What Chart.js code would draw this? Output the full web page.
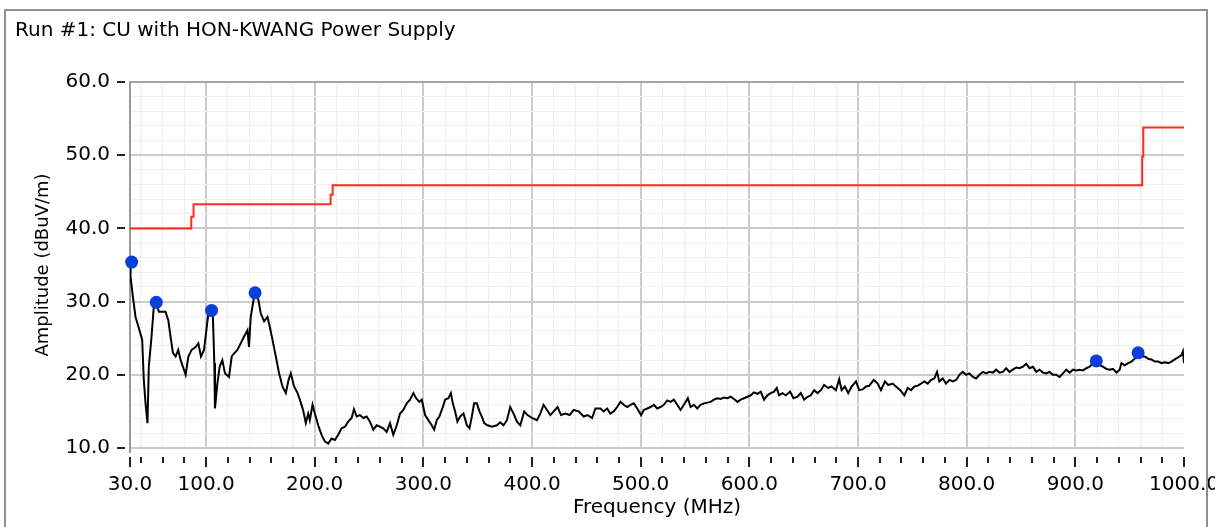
<!DOCTYPE html>
<html>
<head>
<meta charset="utf-8">
<script src="https://cdn.jsdelivr.net/npm/chart.js@4"></script>
<style>
  html, body { margin: 0; padding: 0; background: #fff; }
  #wrap { position: relative; width: 1215px; height: 527px; overflow: hidden; }
  #frame { position: absolute; left: 4px; top: 9px; width: 1204px; height: 540px;
           border: 2px solid #8f8f8f; box-sizing: border-box; pointer-events: none; }
  canvas { position: absolute; left: 0; top: 0; }
</style>
</head>
<body>
<div id="wrap">
  <canvas id="myChart" width="1215" height="527"></canvas>
  <div id="frame"></div>
</div>
<script>
const traceFreq = [
  30, 30.5, 32.6, 35.1, 38.1, 41.2, 42.7, 44.3, 46.1, 47.3,
  49.8, 51.9, 54.2, 56.6, 62.7, 65.2, 67.3, 69.5, 72.0, 74.4,
  76.6, 78.7, 81.2, 83.7, 86.7, 90.4, 92.9, 95.3, 98.1, 99.6,
  102.1, 104.2, 106.3, 107.6, 108.2, 110.4, 112.5, 115.0, 117.4, 121.1,
  123.6, 125.7, 128.8, 131.9, 134.9, 138.1, 139.5, 141.1, 144.2, 145.1,
  148.2, 150.3, 153.4, 156.5, 158.6, 161.1, 164.2, 167.2, 170.3, 173.4,
  175.9, 178.0, 181.0, 184.2,
  186.3, 189.3, 191.8, 194.0, 195.5, 198.0, 200.1, 203.2, 206.3, 209.3,
  212.4, 215.5, 218.6, 221.6, 224.7, 227.8, 230.8, 234.0, 236.1, 238.6,
  241.6, 244.7, 247.8, 250.8, 253.9, 257.0, 260.1, 263.1, 266.2, 269.3,
  272.3, 275.5, 278.5, 281.5, 284.7, 287.7, 290.8, 293.3, 296.3, 298.5,
  301.6, 304.6, 307.7, 309.9, 312.3, 314.7, 317.9, 320.0, 323.0, 325.3,
  327.1, 329.2, 331.3, 333.8, 336.9, 340.0, 342.4, 344.6, 346.7, 349.2,
  351.6, 353.8, 356.0, 359.0, 363.1, 367.7, 370.7, 373.8, 376.9, 379.9,
  383.0, 386.1, 389.2, 392.8, 395.9, 399.9, 404.5, 407.6, 410.6, 413.8,
  416.8, 419.9, 423.5, 426.7, 430.6, 434.6, 438.3, 442.9, 447.5, 451.2,
  455.3, 458.3, 462.9,
  466.0, 469.1, 472.1, 475.2, 478.3, 481.4, 484.4, 487.5, 490.6, 493.6,
  496.8, 500.4, 502.8, 506.0, 509.0, 512.1, 515.2, 518.2, 521.3, 524.4,
  527.5, 530.5, 533.6, 536.7, 539.7, 543.4, 545.9, 549.0, 552.1, 555.1,
  558.2, 561.3, 564.4, 567.4, 570.5, 573.6, 576.6, 579.7, 582.8, 585.8,
  589.0, 592.0, 595.1, 598.2, 601.2, 604.3, 607.4, 610.5, 613.5, 616.6,
  619.7, 622.7, 625.2, 627.3, 630.4, 633.5, 637.5, 640.6, 644.3, 647.3,
  650.4, 653.5, 656.6, 659.6, 662.7, 665.8, 668.8, 672.5, 675.6, 679.6,
  682.7, 684.9, 687.9, 691.0, 694.1, 698.1, 701.1, 704.2, 707.3, 710.3,
  714.4, 718.1, 721.1, 724.8, 727.8, 731.9, 734.9, 738.9,
  742.6, 745.7, 748.8, 751.8, 754.9, 758.0, 761.0, 764.2, 767.2, 770.2,
  772.7, 774.8, 778.0, 781.0, 784.1, 787.2, 790.3, 793.3, 796.4, 799.5,
  802.5, 805.7, 808.7, 811.7, 814.9, 817.9, 821.0, 824.1, 827.1, 830.2,
  833.3, 836.3, 839.4, 842.5, 845.6, 848.6, 851.8, 854.8, 857.8, 861.0,
  864.0, 867.1, 870.2, 873.3, 876.3, 879.4, 882.5, 885.5, 888.6, 891.7,
  894.7, 897.9, 900.9, 904.0, 907.1, 910.1, 913.2, 916.3, 919.3, 922.4,
  925.5, 928.6, 931.6, 934.7, 937.8, 940.8, 942.4, 945.4, 948.6, 951.6,
  954.7, 957.8, 960.8, 963.9, 967.0, 970.0, 973.1, 976.2, 979.3, 982.3,
  985.5, 988.5, 991.5, 994.7, 997.7, 999.0, 1000
];
const traceAmp = [
  35.4, 33.4, 30.7, 27.9, 26.4, 24.8, 19.3, 16.1, 13.4, 21.1,
  25.2, 29.3, 29.8, 28.6, 28.6, 27.5, 25.2, 23.0, 22.5, 23.4,
  22.0, 21.1, 20.0, 22.5, 23.4, 23.8, 24.3, 22.5, 23.4, 25.2,
  28.4, 28.6, 27.9, 21.6, 15.4, 18.8, 21.1, 22.0, 20.2, 19.7,
  22.5, 22.9, 23.4, 24.3, 25.2, 26.1, 23.8, 27.9, 30.7, 31.1,
  30.2, 28.4, 27.3, 27.9, 26.6, 24.8, 22.5, 20.2, 18.4, 17.5,
  19.3, 20.2, 18.4, 17.5,
  16.6, 15.2, 13.4, 14.7, 13.8, 15.9, 14.7, 13.1, 11.8, 10.9,
  10.6, 11.3, 11.1, 11.8, 12.7, 12.9, 13.6, 14.1, 15.3, 14.3,
  14.5, 14.1, 14.3, 13.6, 12.5, 13.1, 12.9, 12.7, 12.2, 13.4,
  11.8, 13.1, 14.7, 15.2, 16.1, 16.6, 17.5, 16.8, 16.3, 16.6,
  14.5, 13.8, 13.1, 12.5, 13.8, 14.3, 15.6, 16.6, 16.8, 17.5,
  16.1, 15.0, 13.6, 14.3, 14.7, 13.1, 12.7, 14.3, 16.1, 16.1,
  15.0, 14.3, 13.4, 13.1, 12.9, 13.1, 13.5, 13.1, 13.8, 15.6,
  14.7, 13.6, 13.1, 15.0, 14.5, 14.1, 13.8, 14.7, 15.9, 15.2,
  14.5, 15.0, 15.6, 14.5, 14.7, 14.5, 15.2, 15.0, 14.3, 14.5,
  14.1, 15.4, 15.4,
  15.0, 15.4, 14.7, 15.0, 15.6, 16.3, 15.9, 15.6, 15.9, 16.1,
  15.4, 14.5, 15.2, 15.4, 15.6, 15.9, 15.4, 15.6, 15.9, 16.5,
  16.3, 16.6, 15.9, 15.2, 15.9, 16.8, 15.6, 15.9, 15.4, 15.9,
  16.1, 16.2, 16.3, 16.6, 16.8, 16.7, 16.9, 16.8, 17.0, 16.7,
  16.3, 16.6, 16.8, 17.0, 17.2, 17.6, 17.4, 17.7, 16.6, 17.2,
  17.5, 17.7, 18.2, 17.2, 17.5, 17.2, 17.7, 16.8, 17.0, 17.5,
  16.6, 17.0, 17.2, 17.9, 17.5, 17.9, 18.6, 18.2, 18.4, 17.9,
  19.4, 17.9, 18.4, 17.5, 18.4, 19.1, 17.9, 18.0, 18.4, 18.5,
  19.3, 18.8, 17.9, 19.1, 18.6, 18.8, 18.4, 17.9,
  17.2, 18.2, 17.9, 18.4, 18.5, 18.8, 19.1, 18.8, 19.3, 19.5,
  20.4, 19.1, 19.5, 18.8, 19.3, 19.1, 19.3, 20.0, 20.4, 20.0,
  20.2, 19.7, 19.5, 20.0, 20.4, 20.2, 20.4, 20.3, 20.7, 20.3,
  20.4, 20.9, 20.4, 20.7, 21.0, 20.9, 21.1, 21.5, 20.9, 21.1,
  20.4, 20.7, 20.3, 20.2, 20.4, 20.0, 20.0, 19.7, 20.2, 20.7,
  20.3, 20.7, 20.6, 20.7, 20.6, 20.9, 21.1, 21.6, 21.8, 21.3,
  21.1, 20.8, 20.7, 20.8, 20.3, 20.7, 21.6, 21.3, 21.6, 21.8,
  22.2, 22.9, 22.5, 22.5, 22.2, 22.1, 21.8, 21.8, 21.6, 21.7,
  21.6, 21.8, 22.1, 22.4, 22.7, 23.2, 21.6
];

// limit line (stepped)
const limitFreq = [30, 86.4, 88.5, 214.6, 216.5, 961.5, 962.5, 1000];
const limitAmp = [40.0, 41.6, 43.3, 44.6, 45.9, 49.8, 53.8, 53.8];

// peak markers
const peakFreq = [31.5, 54.2, 105.1, 145.1, 919.3, 957.8];
const peakAmp = [35.4, 29.9, 28.8, 31.2, 21.9, 23.0];

const xMajor = [30, 100, 200, 300, 400, 500, 600, 700, 800, 900, 1000];
const xMinorStep = 20;
const yMajor = [10, 20, 30, 40, 50, 60];
const yMinorStep = 2;

const toPoints = (xs, ys) => xs.map((x, i) => ({ x: x, y: ys[i] }));

let xTickValues = [30];
for (let v = 40; v <= 1000; v += xMinorStep) xTickValues.push(v);
let yTickValues = [];
for (let v = 10; v <= 60; v += yMinorStep) yTickValues.push(v);

const isXMajor = v => xMajor.includes(v);
const isYMajor = v => yMajor.includes(v);

// small tick marks drawn outside the plot
const tickMarks = {
    id: "tickMarks",
    afterDraw(chart) {
        const ctx = chart.ctx;
        const xs = chart.scales.x;
        const ys = chart.scales.y;
        const bottom = chart.chartArea.bottom;
        const left = chart.chartArea.left;
        ctx.save();
        ctx.strokeStyle = "#222";
        ctx.lineWidth = 2;
        xs.ticks.forEach(t => {
            const px = Math.round(xs.getPixelForValue(t.value));
            ctx.beginPath();
            ctx.moveTo(px, bottom + 9);
            ctx.lineTo(px, bottom + (isXMajor(t.value) ? 19 : 15));
            ctx.stroke();
        });
        ys.ticks.forEach(t => {
            if (!isYMajor(t.value)) return;
            const py = Math.round(ys.getPixelForValue(t.value));
            ctx.beginPath();
            ctx.moveTo(left - 13, py);
            ctx.lineTo(left - 5, py);
            ctx.stroke();
        });
        // axis line runs a little below the plot
        ctx.strokeStyle = "#9a9a9a";
        ctx.beginPath();
        ctx.moveTo(left, bottom);
        ctx.lineTo(left, bottom + 5);
        ctx.stroke();
        ctx.restore();
    }
};

const white = {
    id: "white",
    beforeDraw(chart) {
        const ctx = chart.ctx;
        ctx.save();
        ctx.fillStyle = "#fff";
        ctx.fillRect(0, 0, chart.width, chart.height);
        ctx.restore();
    }
};

const font = "'DejaVu Sans', Verdana, sans-serif";

new Chart("myChart", {
    type: "scatter",
    data: {
        datasets: [
            {
                label: "Peaks",
                data: toPoints(peakFreq, peakAmp),
                backgroundColor: "#0b3fdc",
                borderColor: "#0b3fdc",
                pointRadius: 6.5,
                pointBorderWidth: 0,
                clip: false,
                order: 0
            },
            {
                label: "Trace",
                data: toPoints(traceFreq, traceAmp),
                showLine: true,
                borderColor: "#000",
                borderWidth: 2,
                pointRadius: 0,
                tension: 0,
                order: 1
            },
            {
                label: "Limit",
                data: toPoints(limitFreq, limitAmp),
                showLine: true,
                stepped: "before",
                borderColor: "#ff2b1c",
                borderWidth: 2,
                pointRadius: 0,
                order: 2
            }
        ]
    },
    options: {
        responsive: false,
        animation: false,
        devicePixelRatio: 1,
        layout: { padding: { left: 15, right: 31, top: 0, bottom: 0 } },
        plugins: {
            legend: { display: false },
            tooltip: { enabled: false },
            title: {
                display: true,
                text: "Run #1: CU with HON-KWANG Power Supply",
                align: "start",
                color: "#000",
                font: { family: font, size: 20, weight: "normal", lineHeight: 1.2 },
                padding: { top: 19, bottom: 39 }
            }
        },
        scales: {
            x: {
                type: "linear",
                min: 30,
                max: 1000,
                afterBuildTicks: s => { s.ticks = xTickValues.map(v => ({ value: v })); },
                afterFit: s => { s.height = 79; s.paddingLeft = 0; s.paddingRight = 0; },
                ticks: {
                    autoSkip: false,
                    maxRotation: 0,
                    padding: 25,
                    color: "#000",
                    font: { family: font, size: 20 },
                    callback: v => isXMajor(v) ? v.toFixed(1) : ""
                },
                grid: {
                    drawTicks: false,
                    color: c => {
                        const v = c.tick.value;
                        if (v === 30 || v === 1000) return "rgba(0,0,0,0)";
                        return isXMajor(v) ? "#cbcbcb" : "#efefef";
                    },
                    lineWidth: c => isXMajor(c.tick.value) ? 2 : 1
                },
                border: { display: false },
                title: {
                    display: true,
                    text: "Frequency (MHz)",
                    color: "#000",
                    font: { family: font, size: 20, lineHeight: 1.2 },
                    padding: { top: 0, bottom: 7 }
                }
            },
            y: {
                type: "linear",
                min: 10,
                max: 60,
                afterBuildTicks: s => { s.ticks = yTickValues.map(v => ({ value: v })); },
                afterFit: s => { s.width = 115; s.paddingTop = 0; s.paddingBottom = 0; },
                ticks: {
                    autoSkip: false,
                    padding: 20,
                    color: "#000",
                    font: { family: font, size: 20 },
                    callback: v => isYMajor(v) ? v.toFixed(1) : ""
                },
                grid: {
                    drawTicks: false,
                    color: c => {
                        const v = c.tick.value;
                        if (v === 60) return "#a5a5a5";
                        return isYMajor(v) ? "#cbcbcb" : "#efefef";
                    },
                    lineWidth: c => isYMajor(c.tick.value) ? 2 : 1
                },
                border: { display: true, color: "#9a9a9a", width: 2 },
                title: {
                    display: true,
                    text: "Amplitude (dBuV/m)",
                    color: "#000",
                    font: { family: font, size: 18, lineHeight: 1.2 },
                    padding: { top: 18, bottom: 0 }
                }
            }
        }
    },
    plugins: [white, tickMarks]
});
</script>
</body>
</html>
